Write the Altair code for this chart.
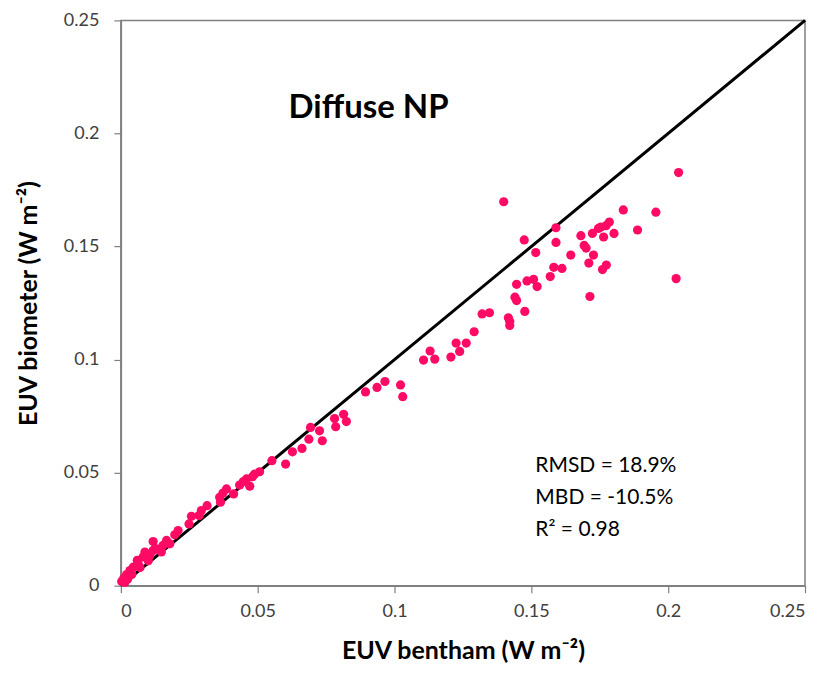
import altair as alt
import pandas as pd

bentham = [0.2038, 0.1836, 0.1955, 0.1785, 0.1773, 0.1754, 0.1745, 0.1802, 0.1888, 0.1723,
           0.1681, 0.1764, 0.1693, 0.1700, 0.1644, 0.1727, 0.1710, 0.1774, 0.1760, 0.1612,
           0.2029, 0.1714,
           0.1399, 0.1590, 0.1474, 0.1590, 0.1516, 0.1582, 0.1569, 0.1446, 0.1484, 0.1508,
           0.1521, 0.1440, 0.1446, 0.1476, 0.1320, 0.1347, 0.1416, 0.1421, 0.1421, 0.1291,
           0.1225, 0.1262, 0.1238, 0.1206, 0.1130, 0.1147, 0.1106, 0.1022, 0.1030, 0.0965,
           0.0936, 0.0894, 0.0814, 0.0781, 0.0824, 0.0785,
           0.0693, 0.0726, 0.0687, 0.0736, 0.0662, 0.0627, 0.0552, 0.0602, 0.0507, 0.0489,
           0.0481, 0.0459, 0.0447, 0.0471, 0.0434, 0.0386, 0.0373, 0.0412, 0.0361, 0.0364,
           0.0315, 0.0294, 0.0286, 0.0258, 0.0249, 0.0209, 0.0197, 0.0167, 0.0154, 0.0118,
           0.0118, 0.0148, 0.0088, 0.0081, 0.0060, 0.0063, 0.0045, 0.0033, 0.0021, 0.0011,
           0.0003, 0.0106, 0.0130, 0.0179, 0.0015, 0.0025, 0.0040, 0.0070, 0.0100]
biometer = [0.1827, 0.1662, 0.1652, 0.1608, 0.1592, 0.1586, 0.1580, 0.1558, 0.1573, 0.1558,
            0.1548, 0.1542, 0.1505, 0.1493, 0.1462, 0.1462, 0.1427, 0.1418, 0.1398, 0.1403,
            0.1358, 0.1279,
            0.1698, 0.1583, 0.1529, 0.1518, 0.1473, 0.1408, 0.1367, 0.1333, 0.1348, 0.1355,
            0.1323, 0.1276, 0.1261, 0.1213, 0.1202, 0.1207, 0.1185, 0.1170, 0.1151, 0.1123,
            0.1073, 0.1073, 0.1036, 0.1011, 0.1038, 0.1002, 0.0998, 0.0888, 0.0836, 0.0903,
            0.0877, 0.0857, 0.0758, 0.0739, 0.0726, 0.0703,
            0.0700, 0.0685, 0.0648, 0.0641, 0.0607, 0.0592, 0.0553, 0.0538, 0.0504, 0.0494,
            0.0482, 0.0472, 0.0460, 0.0440, 0.0445, 0.0428, 0.0410, 0.0406, 0.0391, 0.0369,
            0.0354, 0.0332, 0.0310, 0.0307, 0.0273, 0.0244, 0.0225, 0.0200, 0.0178, 0.0195,
            0.0156, 0.0149, 0.0149, 0.0127, 0.0112, 0.0097, 0.0082, 0.0067, 0.0049, 0.0034,
            0.0019, 0.0134, 0.0163, 0.0185, 0.0015, 0.0030, 0.0050, 0.0080, 0.0110]

line_x = [0.0, 0.25]
line_y = [0.0, 0.25]
ticks = [0, 0.05, 0.1, 0.15, 0.2, 0.25]
stats = ["RMSD = 18.9%", "MBD = -10.5%", "R² = 0.98"]

FONT = "Lato"
pts = pd.DataFrame({"x": bentham, "y": biometer})
ln = pd.DataFrame({"x": line_x, "y": line_y})
st = pd.DataFrame({"t": ["\n".join(stats)]})

xs = alt.Scale(domain=[0, 0.25], nice=False)
ys = alt.Scale(domain=[0, 0.25], nice=False)

xaxis = alt.Axis(values=ticks, title="EUV bentham (W m⁻²)", grid=False, labelExpr="format(datum.value, '~g')")
yaxis = alt.Axis(values=ticks, title="EUV biometer (W m⁻²)", grid=False, labelExpr="format(datum.value, '~g')",
                 labelPadding=15, titlePadding=22)

line = alt.Chart(ln).mark_line(color="black", strokeWidth=3).encode(
    x=alt.X("x:Q", scale=xs, axis=xaxis),
    y=alt.Y("y:Q", scale=ys, axis=yaxis),
)
points = alt.Chart(pts).mark_circle(color="#FF0A64", opacity=1, size=85).encode(
    x=alt.X("x:Q", scale=xs),
    y=alt.Y("y:Q", scale=ys),
)
title = alt.Chart(pd.DataFrame({"t": ["Diffuse NP"]})).mark_text(
    font=FONT, fontSize=33, fontWeight="bold", color="black", align="center", baseline="middle"
).encode(text="t:N", x=alt.value(248), y=alt.value(88))

stat_text = alt.Chart(st).mark_text(
    font=FONT, fontSize=21, color="black", align="left", baseline="middle",
    lineBreak="\n", lineHeight=32,
).encode(
    text="t:N",
    x=alt.value(415),
    y=alt.value(446),
)

chart = alt.layer(line, points, title, stat_text).properties(
    width=685, height=566,
    autosize=alt.AutoSizeParams(type="none"),
    padding={"left": 113, "top": 12, "right": 15, "bottom": 84},
).configure_view(stroke="#808080", strokeWidth=1.5).configure_axis(
    domainColor="#808080", domainWidth=1.5, tickColor="#808080", tickSize=7, tickWidth=1.2,
    labelFont=FONT, labelFontSize=18, labelColor="#404040", labelPadding=10,
    titleFont=FONT, titleFontSize=25, titleFontWeight="bold", titleColor="black",
).configure_axisX(titlePadding=18)

chart.save("out.html", embed_options={"renderer": "svg", "actions": False})
